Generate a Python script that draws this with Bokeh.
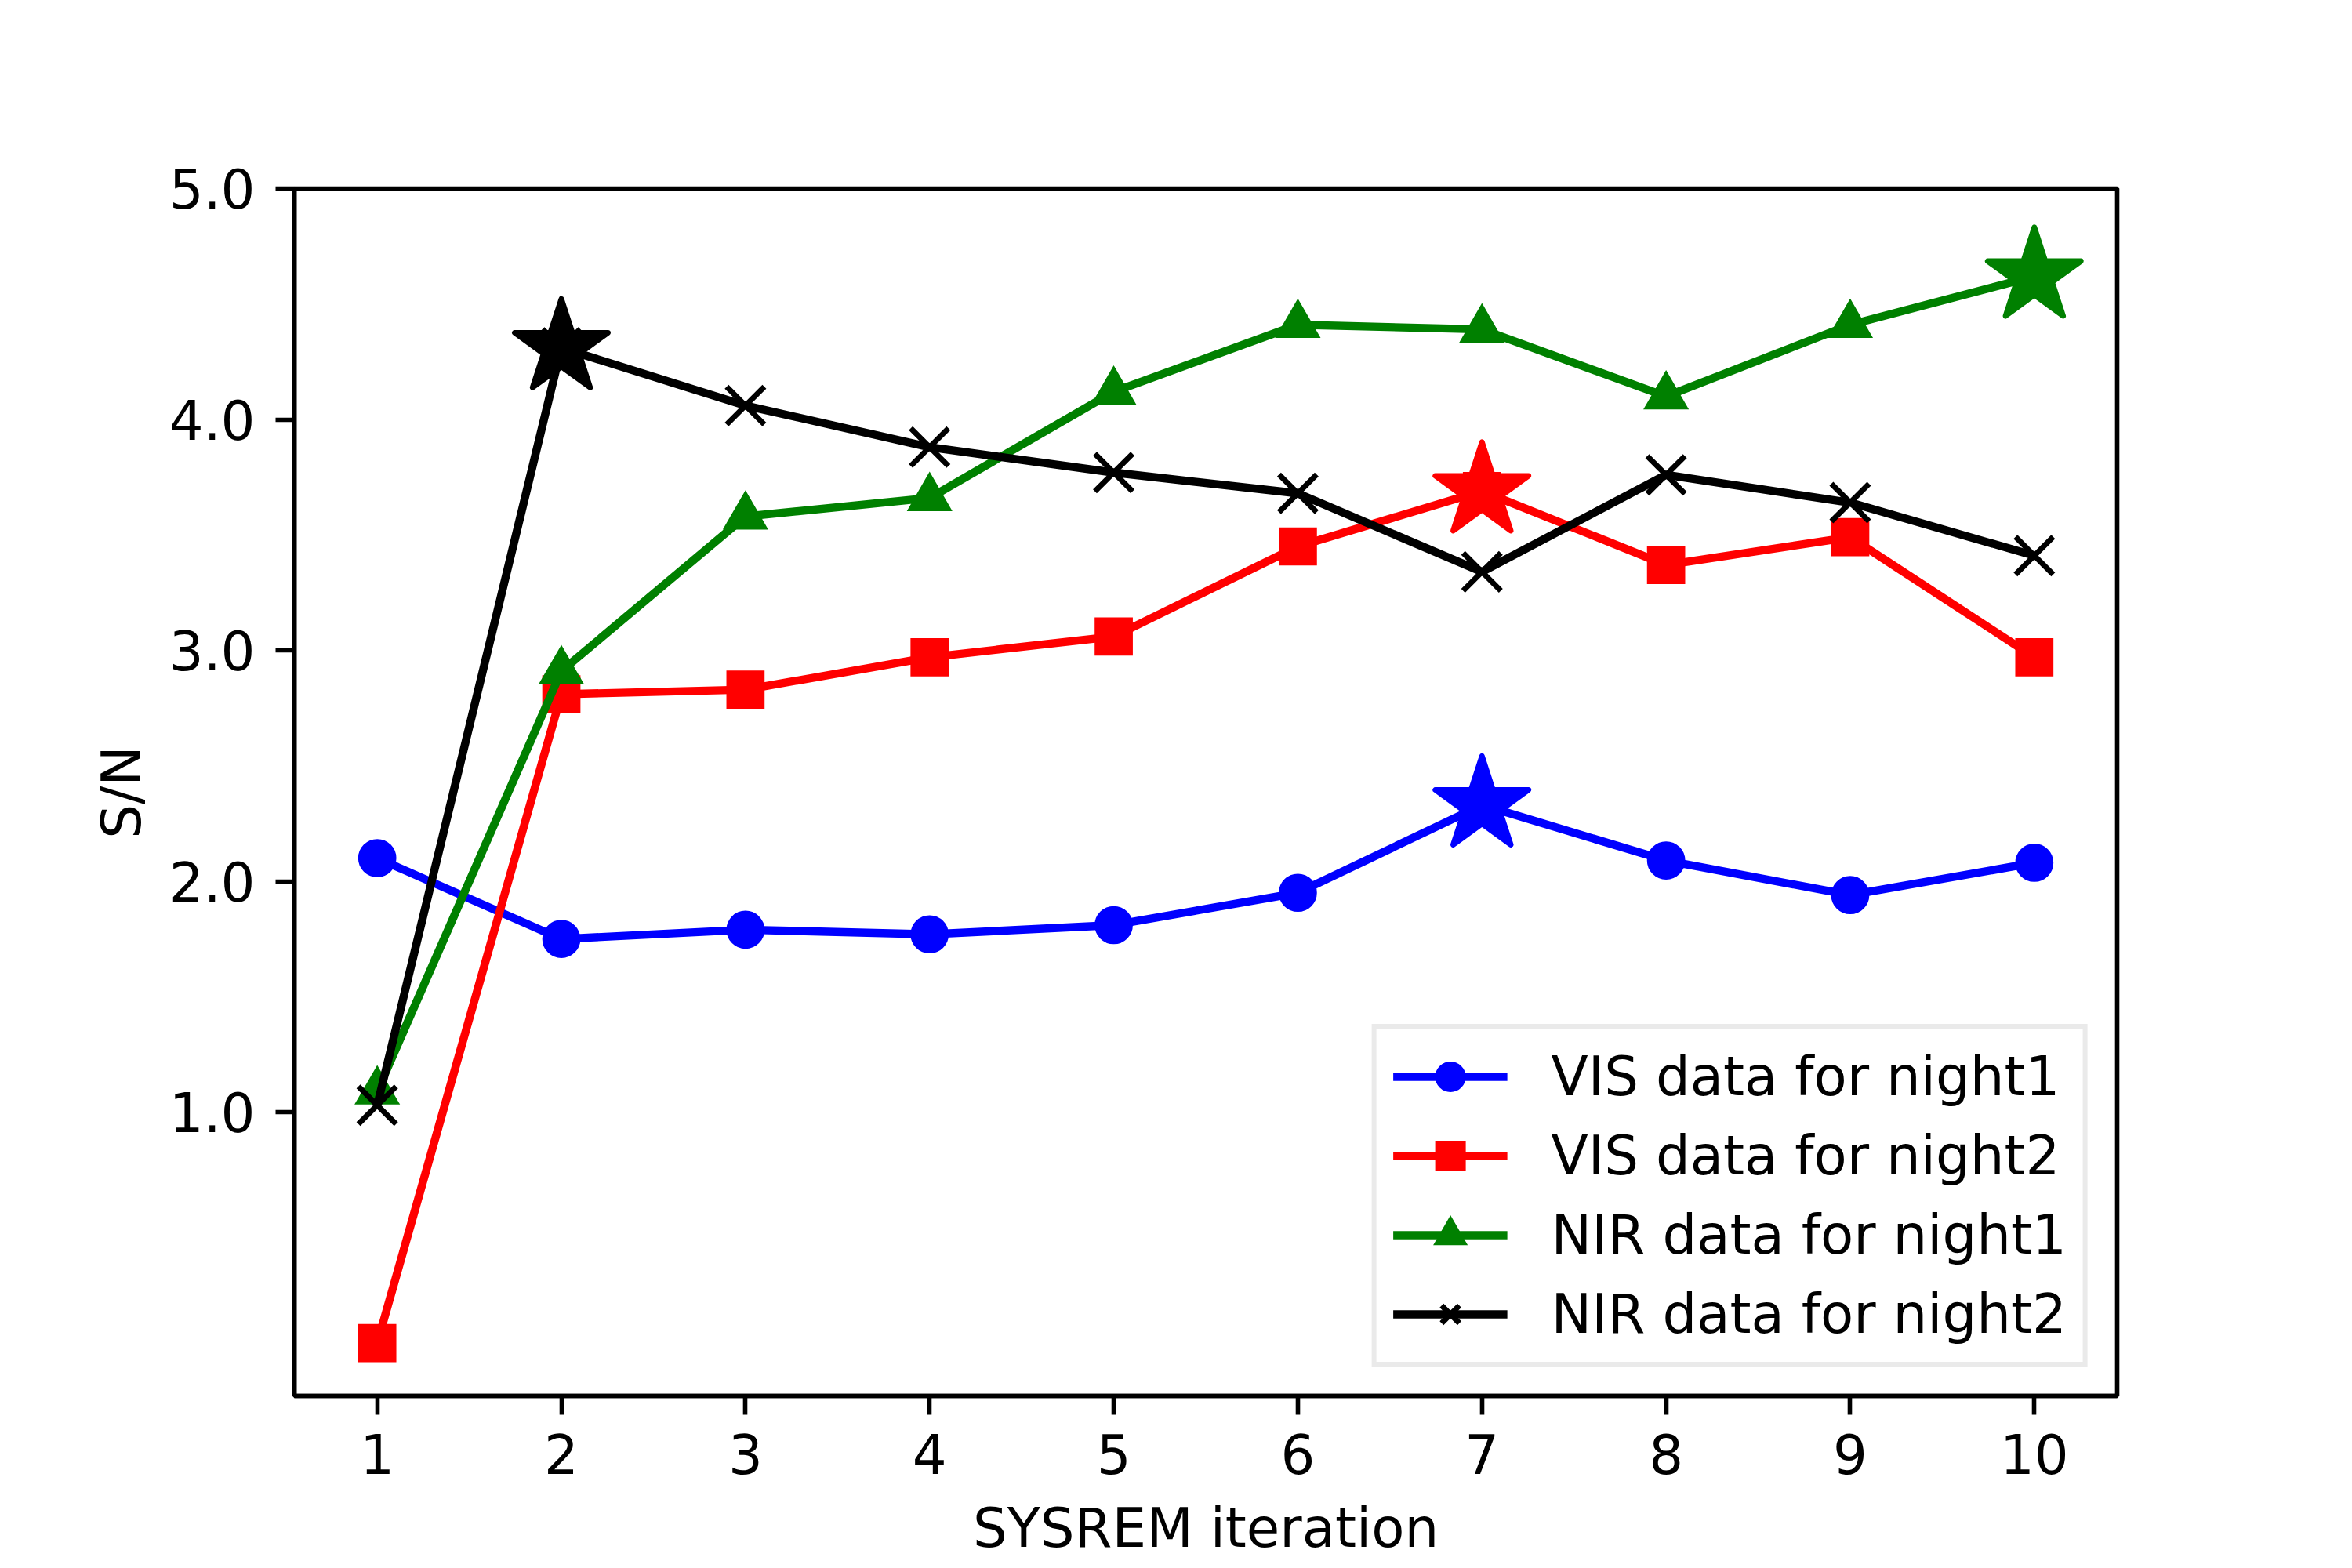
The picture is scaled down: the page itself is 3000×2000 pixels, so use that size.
import numpy as np
from bokeh.plotting import figure
from bokeh.models import Range1d, FixedTicker, PrintfTickFormatter
from bokeh.embed import file_html
from bokeh.resources import INLINE

# ---- data ----
iterations = [1, 2, 3, 4, 5, 6, 7, 8, 9, 10]
vis_night1 = [2.10, 1.75, 1.79, 1.77, 1.81, 1.95, 2.33, 2.09, 1.94, 2.08]
vis_night2 = [0.00, 2.81, 2.83, 2.97, 3.06, 3.45, 3.69, 3.37, 3.49, 2.97]
nir_night1 = [1.09, 2.91, 3.58, 3.66, 4.12, 4.41, 4.39, 4.10, 4.41, 4.62]
nir_night2 = [1.03, 4.31, 4.06, 3.88, 3.77, 3.68, 3.34, 3.76, 3.64, 3.41]
series_labels = ["VIS data for night1", "VIS data for night2",
                 "NIR data for night1", "NIR data for night2"]
y_ticks = [1, 2, 3, 4, 5]

FONT = "DejaVu Sans"
FS = "69px"
LW = 10.4
EW = 7

p = figure(frame_width=2325, frame_height=1540,
           min_border_left=375, min_border_right=284,
           min_border_top=240, min_border_bottom=190,
           x_range=Range1d(0.55, 10.45), y_range=Range1d(-0.229, 5.0),
           output_backend="svg", toolbar_location=None,
           background_fill_color="white", border_fill_color="white")

p.xgrid.visible = False
p.ygrid.visible = False
p.outline_line_color = "black"
p.outline_line_width = 5.6
p.outline_line_alpha = 1.0

for ax in (p.xaxis[0], p.yaxis[0]):
    ax.axis_line_color = "black"
    ax.axis_line_width = 5.6
    ax.major_tick_line_width = 5.6
    ax.major_tick_out = 24
    ax.major_tick_in = 0
    ax.minor_tick_line_color = None
    ax.major_label_text_font = FONT
    ax.major_label_text_font_size = FS
    ax.major_label_text_color = "black"
    ax.axis_label_text_font = FONT
    ax.axis_label_text_font_size = FS
    ax.axis_label_text_font_style = "normal"
    ax.axis_label_text_color = "black"

p.xaxis.ticker = FixedTicker(ticks=iterations)
p.yaxis.ticker = FixedTicker(ticks=y_ticks)
p.yaxis.formatter = PrintfTickFormatter(format="%.1f")
p.xaxis.axis_label = "SYSREM iteration"
p.yaxis.axis_label = "S/N"
p.xaxis.major_label_standoff = 24
p.xaxis.axis_label_standoff = 26
p.yaxis.major_label_standoff = 26
p.yaxis.axis_label_standoff = 18

specs = [
    (vis_night1, "#0000ff", "circle", 41.7),
    (vis_night2, "#ff0000", "square", 41.7),
    (nir_night1, "#008000", "triangle", 46),
    (nir_night2, "#000000", "x", 68),
]

for (ys, col, mk, sz), lab in zip(specs, series_labels):
    p.line(iterations, ys, line_color=col, line_width=LW, line_join="round",
           legend_label=lab)
    p.scatter(iterations, ys, marker=mk, size=sz, fill_color=col,
              line_color=col, line_width=EW, line_join="miter",
              legend_label=lab)

# star markers at the best iteration of each series
for ys, col, _, _ in specs:
    i = int(np.argmax(ys))
    p.scatter([iterations[i]], [ys[i]], marker="star", size=125,
              fill_color=col, line_color=col, line_width=EW,
              line_join="round")

lg = p.legend[0]
lg.location = "bottom_right"
lg.margin = 37
lg.padding = 21
lg.spacing = 21
lg.glyph_width = 146
lg.glyph_height = 80
lg.label_height = 80
lg.label_standoff = 56
lg.label_text_font = FONT
lg.label_text_font_size = FS
lg.label_text_color = "black"
lg.border_line_color = "#d6d6d6"
lg.border_line_width = 6
lg.background_fill_color = "white"
lg.background_fill_alpha = 0.8

open("out.html", "w").write(file_html(p, INLINE))
